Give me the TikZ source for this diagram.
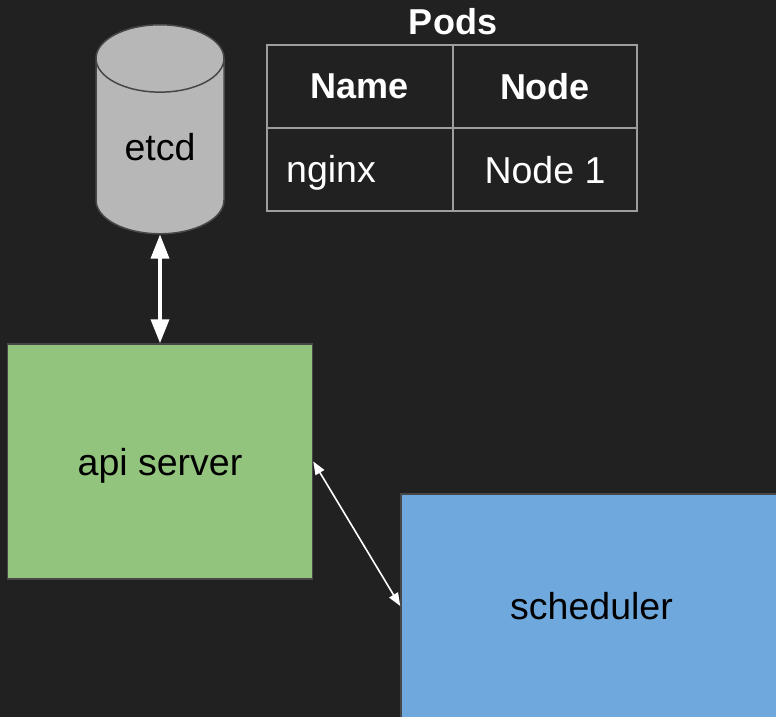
\documentclass[tikz,border=0pt]{standalone}
\usepackage{fontspec}
\setmainfont{Liberation Sans}
\usetikzlibrary{shapes.geometric,arrows.meta}
\definecolor{bgdark}{HTML}{212121}
\definecolor{apigreen}{HTML}{93C47D}
\definecolor{schedblue}{HTML}{6FA8DC}
\definecolor{dbgray}{HTML}{B7B7B7}
\definecolor{boxline}{HTML}{474747}
\definecolor{gridline}{HTML}{9E9E9E}
\newcommand\bigtext{\fontsize{37.5}{44}\selectfont}
\newcommand\headtext{\fontsize{36}{43}\selectfont\bfseries}
\tikzset{
  box/.style={draw=boxline, line width=1.5pt, inner sep=0pt, text depth=0pt, font=\bigtext},
  cell/.style={draw=gridline, line width=1.5pt, minimum height=83pt, inner sep=0pt, text depth=0pt, text=white, font=\bigtext},
  biglink/.style={draw=white, line width=3.5pt, {Triangle[length=24pt,width=18pt]}-{Triangle[length=24pt,width=18pt]}},
  thinlink/.style={draw=white, line width=1.6pt, {Triangle[length=13pt,width=10pt]}-{Triangle[length=13pt,width=10pt]}}
}
\begin{document}
\begin{tikzpicture}[x=1pt,y=-1pt]
\useasboundingbox (0,0) rectangle (776,717);
\clip (0,0) rectangle (776,717);
\fill[bgdark] (0,0) rectangle (776,717);

\node[cylinder, shape border rotate=90, aspect=0.95, draw=boxline, line width=1.5pt, fill=dbgray,
      minimum width=128pt, minimum height=209pt, inner sep=0pt, text depth=0pt, font=\bigtext] (etcd) at (160,146.5) {etcd};
\node[box, fill=apigreen, minimum width=305pt, minimum height=235pt] (api) at (160,461.5) {api server};
\node[box, fill=schedblue, minimum width=381pt, minimum height=224pt] (sched) at (591.5,606) {scheduler};

\node[cell, minimum width=186pt, font=\headtext] (name) at (360,86.5) {Name};
\node[cell, minimum width=184pt, font=\headtext] (node) at (545,86.5) {Node};
\node[cell, minimum width=186pt] (nginx) at (360,169.5) {};
\node[cell, minimum width=184pt] (node1) at (545,169.5) {Node 1};
\node[text=white, font=\bigtext, anchor=base west, inner sep=0pt] (nginxtext) at (286,182) {nginx};
\node[text=white, font=\headtext] (pods) at (453,22) {Pods};

\path[biglink] (etcd.south) -- (api.north);
\path[thinlink] (api.east) -- (sched.west);
\end{tikzpicture}
\end{document}
